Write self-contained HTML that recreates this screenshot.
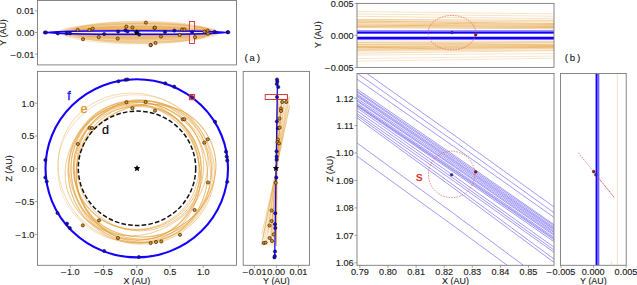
<!DOCTYPE html>
<html><head><meta charset="utf-8"><style>
html,body{margin:0;padding:0;background:#fff;width:637px;height:285px;overflow:hidden}
svg{display:block;font-family:"Liberation Sans", sans-serif}
</style></head><body>
<svg width="637" height="285" viewBox="0 0 637 285" xmlns="http://www.w3.org/2000/svg">
<defs><clipPath id="cA1"><rect x="37.5" y="0.5" width="199.0" height="64.4"/></clipPath><clipPath id="cA2"><rect x="37.5" y="71.4" width="199.0" height="193.9"/></clipPath><clipPath id="cA3"><rect x="243.2" y="71.4" width="66.30000000000001" height="193.9"/></clipPath><clipPath id="cB1"><rect x="357" y="3.4" width="197" height="64.0"/></clipPath><clipPath id="cB2"><rect x="357" y="73.5" width="197" height="191.8"/></clipPath><clipPath id="cB3"><rect x="560.5" y="73.5" width="65.70000000000005" height="191.8"/></clipPath></defs>
<rect width="637" height="285" fill="#fff"/>
<g clip-path="url(#cA2)">
<ellipse cx="137.1" cy="168.2" rx="64.0" ry="62.0" transform="rotate(0.0 137.1 168.2)" fill="none" stroke="#e39c32" stroke-width="1.0" stroke-opacity="0.61"/>
<ellipse cx="136.3" cy="167.1" rx="62.9" ry="62.5" transform="rotate(0.0 136.3 167.1)" fill="none" stroke="#e39c32" stroke-width="1.0" stroke-opacity="0.58"/>
<ellipse cx="135.6" cy="173.4" rx="64.2" ry="69.7" transform="rotate(-16.6 135.6 173.4)" fill="none" stroke="#e39c32" stroke-width="1.0" stroke-opacity="0.49"/>
<ellipse cx="146.0" cy="170.5" rx="70.9" ry="65.2" transform="rotate(-27.2 146.0 170.5)" fill="none" stroke="#e39c32" stroke-width="1.0" stroke-opacity="0.74"/>
<ellipse cx="140.2" cy="165.8" rx="63.6" ry="65.2" transform="rotate(0.0 140.2 165.8)" fill="none" stroke="#e39c32" stroke-width="1.0" stroke-opacity="0.54"/>
<ellipse cx="139.0" cy="172.6" rx="62.7" ry="67.2" transform="rotate(2.9 139.0 172.6)" fill="none" stroke="#e39c32" stroke-width="1.0" stroke-opacity="0.56"/>
<ellipse cx="135.3" cy="170.9" rx="63.9" ry="69.7" transform="rotate(-11.2 135.3 170.9)" fill="none" stroke="#e39c32" stroke-width="1.0" stroke-opacity="0.58"/>
<ellipse cx="140.9" cy="172.4" rx="66.1" ry="70.1" transform="rotate(-15.4 140.9 172.4)" fill="none" stroke="#e39c32" stroke-width="1.0" stroke-opacity="0.66"/>
<ellipse cx="139.2" cy="172.6" rx="71.6" ry="69.6" transform="rotate(28.8 139.2 172.6)" fill="none" stroke="#e39c32" stroke-width="1.0" stroke-opacity="0.46"/>
<ellipse cx="136.6" cy="168.1" rx="72.7" ry="66.0" transform="rotate(-27.6 136.6 168.1)" fill="none" stroke="#e39c32" stroke-width="1.0" stroke-opacity="0.50"/>
<ellipse cx="141.4" cy="172.4" rx="73.1" ry="71.8" transform="rotate(0.0 141.4 172.4)" fill="none" stroke="#e39c32" stroke-width="1.0" stroke-opacity="0.46"/>
<ellipse cx="140.2" cy="169.5" rx="71.7" ry="68.9" transform="rotate(26.7 140.2 169.5)" fill="none" stroke="#e39c32" stroke-width="1.0" stroke-opacity="0.57"/>
<ellipse cx="135.5" cy="168.2" rx="78.5" ry="74.0" transform="rotate(29.6 135.5 168.2)" fill="none" stroke="#e39c32" stroke-width="1.0" stroke-opacity="0.36"/>
<ellipse cx="134.7" cy="168.4" rx="77.0" ry="73.6" transform="rotate(-2.3 134.7 168.4)" fill="none" stroke="#e39c32" stroke-width="1.0" stroke-opacity="0.30"/>
<ellipse cx="137" cy="168.3" rx="58.7" ry="57.2" fill="none" stroke="#111" stroke-width="1.5" stroke-dasharray="4.6 2.2"/>
<ellipse cx="136.75" cy="168.3" rx="91.25" ry="89.1" fill="none" stroke="#1400ff" stroke-width="2.1"/>
<polygon points="137.00,165.00 138.00,167.02 140.23,167.35 138.62,168.93 139.00,171.15 137.00,170.10 135.00,171.15 135.38,168.93 133.77,167.35 136.00,167.02" fill="#000"/>
<circle cx="118.4" cy="81.3" r="1.6" fill="#1400ff" stroke="#111" stroke-width="0.6"/>
<circle cx="125.7" cy="79.8" r="1.6" fill="#1400ff" stroke="#111" stroke-width="0.6"/>
<circle cx="127.4" cy="79.5" r="1.6" fill="#1400ff" stroke="#111" stroke-width="0.6"/>
<circle cx="165.3" cy="83.3" r="1.6" fill="#1400ff" stroke="#111" stroke-width="0.6"/>
<circle cx="174.3" cy="86.7" r="1.6" fill="#1400ff" stroke="#111" stroke-width="0.6"/>
<circle cx="215.0" cy="121.7" r="1.6" fill="#1400ff" stroke="#111" stroke-width="0.6"/>
<circle cx="226.0" cy="151.7" r="1.6" fill="#1400ff" stroke="#111" stroke-width="0.6"/>
<circle cx="226.7" cy="156.7" r="1.6" fill="#1400ff" stroke="#111" stroke-width="0.6"/>
<circle cx="227.2" cy="160.5" r="1.6" fill="#1400ff" stroke="#111" stroke-width="0.6"/>
<circle cx="227.2" cy="181.8" r="1.6" fill="#1400ff" stroke="#111" stroke-width="0.6"/>
<circle cx="138.8" cy="257.0" r="1.6" fill="#1400ff" stroke="#111" stroke-width="0.6"/>
<circle cx="104.2" cy="251.0" r="1.6" fill="#1400ff" stroke="#111" stroke-width="0.6"/>
<circle cx="69.8" cy="228.0" r="1.6" fill="#1400ff" stroke="#111" stroke-width="0.6"/>
<circle cx="67.0" cy="223.6" r="1.6" fill="#1400ff" stroke="#111" stroke-width="0.6"/>
<circle cx="57.5" cy="213.0" r="1.6" fill="#1400ff" stroke="#111" stroke-width="0.6"/>
<circle cx="46.7" cy="181.5" r="1.6" fill="#1400ff" stroke="#111" stroke-width="0.6"/>
<circle cx="45.3" cy="177.5" r="1.6" fill="#1400ff" stroke="#111" stroke-width="0.6"/>
<circle cx="45.4" cy="160.0" r="1.6" fill="#1400ff" stroke="#111" stroke-width="0.6"/>
<circle cx="191.9" cy="97.2" r="1.7" fill="#1400ff" stroke="#111" stroke-width="0.6"/>
<rect x="189.4" y="94.5" width="5.2" height="5.2" fill="#e03030" fill-opacity="0.25" stroke="#e03030" stroke-width="1.0"/>
<circle cx="126.4" cy="102.2" r="1.6" fill="#e88c10" stroke="#111" stroke-width="0.6"/>
<circle cx="145.6" cy="102.0" r="1.6" fill="#e88c10" stroke="#111" stroke-width="0.6"/>
<circle cx="132.4" cy="108.2" r="1.6" fill="#e88c10" stroke="#111" stroke-width="0.6"/>
<circle cx="155.0" cy="110.7" r="1.6" fill="#e88c10" stroke="#111" stroke-width="0.6"/>
<circle cx="89.5" cy="128.0" r="1.6" fill="#e88c10" stroke="#111" stroke-width="0.6"/>
<circle cx="92.0" cy="128.0" r="1.6" fill="#e88c10" stroke="#111" stroke-width="0.6"/>
<circle cx="77.9" cy="144.0" r="1.6" fill="#e88c10" stroke="#111" stroke-width="0.6"/>
<circle cx="182.7" cy="119.3" r="1.6" fill="#e88c10" stroke="#111" stroke-width="0.6"/>
<circle cx="184.3" cy="119.3" r="1.6" fill="#e88c10" stroke="#111" stroke-width="0.6"/>
<circle cx="204.3" cy="142.7" r="1.6" fill="#e88c10" stroke="#111" stroke-width="0.6"/>
<circle cx="207.7" cy="139.3" r="1.6" fill="#e88c10" stroke="#111" stroke-width="0.6"/>
<circle cx="208.0" cy="182.5" r="1.6" fill="#e88c10" stroke="#111" stroke-width="0.6"/>
<circle cx="194.6" cy="210.0" r="1.6" fill="#e88c10" stroke="#111" stroke-width="0.6"/>
<circle cx="180.0" cy="234.8" r="1.6" fill="#e88c10" stroke="#111" stroke-width="0.6"/>
<circle cx="150.7" cy="243.0" r="1.6" fill="#e88c10" stroke="#111" stroke-width="0.6"/>
<circle cx="156.0" cy="242.0" r="1.6" fill="#e88c10" stroke="#111" stroke-width="0.6"/>
<circle cx="161.3" cy="241.5" r="1.6" fill="#e88c10" stroke="#111" stroke-width="0.6"/>
<circle cx="82.8" cy="225.4" r="1.6" fill="#e88c10" stroke="#111" stroke-width="0.6"/>
<circle cx="99.0" cy="220.4" r="1.6" fill="#e88c10" stroke="#111" stroke-width="0.6"/>
<circle cx="117.9" cy="238.0" r="1.6" fill="#e88c10" stroke="#111" stroke-width="0.6"/>
</g>
<rect x="37.5" y="71.4" width="199.0" height="193.9" fill="none" stroke="#7a7a7a" stroke-width="0.9"/>
<text x="68.90" y="99.50" font-size="12.5" text-anchor="middle" fill="#1a10f0" stroke="#1a10f0" stroke-width="0.3">f</text>
<text x="84.00" y="113.00" font-size="12.5" text-anchor="middle" fill="#dc9228" stroke="#dc9228" stroke-width="0.25">e</text>
<text x="105.60" y="134.20" font-size="12.5" text-anchor="middle" fill="#000" stroke="#000" stroke-width="0.2">d</text>
<line x1="70.30000000000001" y1="265.3" x2="70.30000000000001" y2="267.8" stroke="#7a7a7a" stroke-width="0.7"/>
<text transform="translate(70.30,275.00) scale(1.075,1)" font-size="8.5" text-anchor="middle" fill="#1a1a1a" stroke="#1a1a1a" stroke-width="0.12"><tspan>–</tspan><tspan dx="0.9">1.0</tspan></text>
<line x1="103.55000000000001" y1="265.3" x2="103.55000000000001" y2="267.8" stroke="#7a7a7a" stroke-width="0.7"/>
<text transform="translate(103.55,275.00) scale(1.075,1)" font-size="8.5" text-anchor="middle" fill="#1a1a1a" stroke="#1a1a1a" stroke-width="0.12"><tspan>–</tspan><tspan dx="0.9">0.5</tspan></text>
<line x1="136.8" y1="265.3" x2="136.8" y2="267.8" stroke="#7a7a7a" stroke-width="0.7"/>
<text transform="translate(136.80,275.00) scale(1.075,1)" font-size="8.5" text-anchor="middle" fill="#1a1a1a" stroke="#1a1a1a" stroke-width="0.12">0.0</text>
<line x1="170.05" y1="265.3" x2="170.05" y2="267.8" stroke="#7a7a7a" stroke-width="0.7"/>
<text transform="translate(170.05,275.00) scale(1.075,1)" font-size="8.5" text-anchor="middle" fill="#1a1a1a" stroke="#1a1a1a" stroke-width="0.12">0.5</text>
<line x1="203.3" y1="265.3" x2="203.3" y2="267.8" stroke="#7a7a7a" stroke-width="0.7"/>
<text transform="translate(203.30,275.00) scale(1.075,1)" font-size="8.5" text-anchor="middle" fill="#1a1a1a" stroke="#1a1a1a" stroke-width="0.12">1.0</text>
<line x1="35.0" y1="103.20000000000002" x2="37.5" y2="103.20000000000002" stroke="#7a7a7a" stroke-width="0.7"/>
<text transform="translate(34.30,106.60) scale(1.075,1)" font-size="8.5" text-anchor="end" fill="#1a1a1a" stroke="#1a1a1a" stroke-width="0.12">1.0</text>
<line x1="35.0" y1="136.0" x2="37.5" y2="136.0" stroke="#7a7a7a" stroke-width="0.7"/>
<text transform="translate(34.30,139.40) scale(1.075,1)" font-size="8.5" text-anchor="end" fill="#1a1a1a" stroke="#1a1a1a" stroke-width="0.12">0.5</text>
<line x1="35.0" y1="168.8" x2="37.5" y2="168.8" stroke="#7a7a7a" stroke-width="0.7"/>
<text transform="translate(34.30,172.20) scale(1.075,1)" font-size="8.5" text-anchor="end" fill="#1a1a1a" stroke="#1a1a1a" stroke-width="0.12">0.0</text>
<line x1="35.0" y1="201.60000000000002" x2="37.5" y2="201.60000000000002" stroke="#7a7a7a" stroke-width="0.7"/>
<text transform="translate(34.30,205.00) scale(1.075,1)" font-size="8.5" text-anchor="end" fill="#1a1a1a" stroke="#1a1a1a" stroke-width="0.12"><tspan>–</tspan><tspan dx="0.9">0.5</tspan></text>
<line x1="35.0" y1="234.4" x2="37.5" y2="234.4" stroke="#7a7a7a" stroke-width="0.7"/>
<text transform="translate(34.30,237.80) scale(1.075,1)" font-size="8.5" text-anchor="end" fill="#1a1a1a" stroke="#1a1a1a" stroke-width="0.12"><tspan>–</tspan><tspan dx="0.9">1.0</tspan></text>
<text transform="translate(136.80,283.60) scale(1.05,1)" font-size="8.5" text-anchor="middle" fill="#1a1a1a" stroke="#1a1a1a" stroke-width="0.12">X (AU)</text>
<text transform="translate(11.60,168.50) rotate(-90) scale(1.05,1)" font-size="8.5" text-anchor="middle" fill="#1a1a1a" stroke="#1a1a1a" stroke-width="0.12">Z (AU)</text>
<g clip-path="url(#cA1)">
<ellipse cx="140.8" cy="32.4" rx="72.0" ry="10.4" fill="#e39c32" fill-opacity="0.048" stroke="#e39c32" stroke-width="0.6" stroke-opacity="0.4"/>
<ellipse cx="139.9" cy="32.5" rx="73.3" ry="3.1" fill="#e39c32" fill-opacity="0.048" stroke="#e39c32" stroke-width="0.6" stroke-opacity="0.4"/>
<ellipse cx="142.5" cy="32.2" rx="73.6" ry="2.7" fill="#e39c32" fill-opacity="0.048" stroke="#e39c32" stroke-width="0.6" stroke-opacity="0.4"/>
<ellipse cx="139.8" cy="31.8" rx="76.5" ry="7.5" fill="#e39c32" fill-opacity="0.048" stroke="#e39c32" stroke-width="0.6" stroke-opacity="0.4"/>
<ellipse cx="147.1" cy="32.7" rx="71.4" ry="7.1" fill="#e39c32" fill-opacity="0.048" stroke="#e39c32" stroke-width="0.6" stroke-opacity="0.4"/>
<ellipse cx="132.6" cy="31.8" rx="72.6" ry="5.7" fill="#e39c32" fill-opacity="0.048" stroke="#e39c32" stroke-width="0.6" stroke-opacity="0.4"/>
<ellipse cx="136.6" cy="32.4" rx="71.8" ry="2.5" fill="#e39c32" fill-opacity="0.048" stroke="#e39c32" stroke-width="0.6" stroke-opacity="0.4"/>
<ellipse cx="141.1" cy="32.7" rx="75.7" ry="5.7" fill="#e39c32" fill-opacity="0.048" stroke="#e39c32" stroke-width="0.6" stroke-opacity="0.4"/>
<ellipse cx="140.4" cy="32.1" rx="73.9" ry="5.1" fill="#e39c32" fill-opacity="0.048" stroke="#e39c32" stroke-width="0.6" stroke-opacity="0.4"/>
<ellipse cx="148.0" cy="32.8" rx="71.0" ry="9.3" fill="#e39c32" fill-opacity="0.048" stroke="#e39c32" stroke-width="0.6" stroke-opacity="0.4"/>
<ellipse cx="135.6" cy="31.8" rx="72.6" ry="3.7" fill="#e39c32" fill-opacity="0.048" stroke="#e39c32" stroke-width="0.6" stroke-opacity="0.4"/>
<ellipse cx="141.1" cy="32.3" rx="69.5" ry="9.4" fill="#e39c32" fill-opacity="0.048" stroke="#e39c32" stroke-width="0.6" stroke-opacity="0.4"/>
<ellipse cx="146.6" cy="32.0" rx="70.2" ry="2.5" fill="#e39c32" fill-opacity="0.048" stroke="#e39c32" stroke-width="0.6" stroke-opacity="0.4"/>
<ellipse cx="142.9" cy="32.3" rx="68.6" ry="11.2" fill="#e39c32" fill-opacity="0.048" stroke="#e39c32" stroke-width="0.6" stroke-opacity="0.4"/>
<ellipse cx="136.1" cy="32.1" rx="77.7" ry="8.5" fill="#e39c32" fill-opacity="0.048" stroke="#e39c32" stroke-width="0.6" stroke-opacity="0.4"/>
<ellipse cx="136.5" cy="32.9" rx="73.2" ry="11.0" fill="#e39c32" fill-opacity="0.048" stroke="#e39c32" stroke-width="0.6" stroke-opacity="0.4"/>
<ellipse cx="133.8" cy="31.8" rx="74.6" ry="2.7" fill="#e39c32" fill-opacity="0.048" stroke="#e39c32" stroke-width="0.6" stroke-opacity="0.4"/>
<ellipse cx="139.8" cy="32.4" rx="67.7" ry="6.1" fill="#e39c32" fill-opacity="0.048" stroke="#e39c32" stroke-width="0.6" stroke-opacity="0.4"/>
<ellipse cx="140.1" cy="32.7" rx="75.2" ry="2.8" fill="#e39c32" fill-opacity="0.048" stroke="#e39c32" stroke-width="0.6" stroke-opacity="0.4"/>
<ellipse cx="135.1" cy="32.1" rx="75.8" ry="3.3" fill="#e39c32" fill-opacity="0.048" stroke="#e39c32" stroke-width="0.6" stroke-opacity="0.4"/>
<ellipse cx="145.8" cy="33.1" rx="70.4" ry="3.8" fill="#e39c32" fill-opacity="0.048" stroke="#e39c32" stroke-width="0.6" stroke-opacity="0.4"/>
<ellipse cx="137.8" cy="32.7" rx="72.7" ry="9.5" fill="#e39c32" fill-opacity="0.048" stroke="#e39c32" stroke-width="0.6" stroke-opacity="0.4"/>
<rect x="189.5" y="21.5" width="5" height="22" fill="#fff" fill-opacity="0.45" stroke="#d83030" stroke-width="0.9"/>
<ellipse cx="136.5" cy="32.45" rx="91.5" ry="1.75" fill="#efedff" stroke="#1400ff" stroke-width="1.6"/>
<circle cx="44.9" cy="32.5" r="1.6" fill="#1400ff" stroke="#111" stroke-width="0.6"/>
<circle cx="46.0" cy="32.5" r="1.6" fill="#1400ff" stroke="#111" stroke-width="0.6"/>
<circle cx="57.8" cy="33.4" r="1.6" fill="#1400ff" stroke="#111" stroke-width="0.6"/>
<circle cx="66.7" cy="33.4" r="1.6" fill="#1400ff" stroke="#111" stroke-width="0.6"/>
<circle cx="70.0" cy="33.4" r="1.6" fill="#1400ff" stroke="#111" stroke-width="0.6"/>
<circle cx="104.2" cy="34.0" r="1.6" fill="#1400ff" stroke="#111" stroke-width="0.6"/>
<circle cx="118.1" cy="31.6" r="1.6" fill="#1400ff" stroke="#111" stroke-width="0.6"/>
<circle cx="125.4" cy="30.3" r="1.6" fill="#1400ff" stroke="#111" stroke-width="0.6"/>
<circle cx="127.5" cy="31.5" r="1.6" fill="#1400ff" stroke="#111" stroke-width="0.6"/>
<circle cx="139.2" cy="34.6" r="1.6" fill="#1400ff" stroke="#111" stroke-width="0.6"/>
<circle cx="165.0" cy="31.9" r="1.6" fill="#1400ff" stroke="#111" stroke-width="0.6"/>
<circle cx="174.3" cy="30.6" r="1.6" fill="#1400ff" stroke="#111" stroke-width="0.6"/>
<circle cx="192.1" cy="31.9" r="1.6" fill="#1400ff" stroke="#111" stroke-width="0.6"/>
<circle cx="214.6" cy="31.8" r="1.6" fill="#1400ff" stroke="#111" stroke-width="0.6"/>
<circle cx="227.5" cy="32.2" r="1.6" fill="#1400ff" stroke="#111" stroke-width="0.6"/>
<circle cx="228.3" cy="32.2" r="1.6" fill="#1400ff" stroke="#111" stroke-width="0.6"/>
<circle cx="77.7" cy="30.0" r="1.6" fill="#e88c10" stroke="#111" stroke-width="0.6"/>
<circle cx="83.0" cy="39.2" r="1.6" fill="#e88c10" stroke="#111" stroke-width="0.6"/>
<circle cx="89.4" cy="30.0" r="1.6" fill="#e88c10" stroke="#111" stroke-width="0.6"/>
<circle cx="92.8" cy="28.7" r="1.6" fill="#e88c10" stroke="#111" stroke-width="0.6"/>
<circle cx="98.7" cy="37.1" r="1.6" fill="#e88c10" stroke="#111" stroke-width="0.6"/>
<circle cx="117.7" cy="38.6" r="1.6" fill="#e88c10" stroke="#111" stroke-width="0.6"/>
<circle cx="126.3" cy="26.7" r="1.6" fill="#e88c10" stroke="#111" stroke-width="0.6"/>
<circle cx="132.4" cy="27.5" r="1.6" fill="#e88c10" stroke="#111" stroke-width="0.6"/>
<circle cx="145.9" cy="22.6" r="1.6" fill="#e88c10" stroke="#111" stroke-width="0.6"/>
<circle cx="150.8" cy="45.1" r="1.6" fill="#e88c10" stroke="#111" stroke-width="0.6"/>
<circle cx="154.5" cy="27.9" r="1.6" fill="#e88c10" stroke="#111" stroke-width="0.6"/>
<circle cx="154.9" cy="27.6" r="1.6" fill="#e88c10" stroke="#111" stroke-width="0.6"/>
<circle cx="161.0" cy="36.5" r="1.6" fill="#e88c10" stroke="#111" stroke-width="0.6"/>
<circle cx="155.5" cy="43.0" r="1.6" fill="#e88c10" stroke="#111" stroke-width="0.6"/>
<circle cx="150.6" cy="45.1" r="1.6" fill="#e88c10" stroke="#111" stroke-width="0.6"/>
<circle cx="179.7" cy="34.9" r="1.6" fill="#e88c10" stroke="#111" stroke-width="0.6"/>
<circle cx="182.1" cy="29.5" r="1.6" fill="#e88c10" stroke="#111" stroke-width="0.6"/>
<circle cx="184.4" cy="29.5" r="1.6" fill="#e88c10" stroke="#111" stroke-width="0.6"/>
<circle cx="195.0" cy="37.1" r="1.6" fill="#e88c10" stroke="#111" stroke-width="0.6"/>
<circle cx="204.4" cy="31.6" r="1.6" fill="#e88c10" stroke="#111" stroke-width="0.6"/>
<circle cx="207.7" cy="30.7" r="1.6" fill="#e88c10" stroke="#111" stroke-width="0.6"/>
<circle cx="208.0" cy="33.7" r="1.6" fill="#e88c10" stroke="#111" stroke-width="0.6"/>
<polygon points="136.70,29.20 137.70,31.22 139.93,31.55 138.32,33.13 138.70,35.35 136.70,34.30 134.70,35.35 135.08,33.13 133.47,31.55 135.70,31.22" fill="#000"/>
</g>
<rect x="37.5" y="0.5" width="199.0" height="64.4" fill="none" stroke="#7a7a7a" stroke-width="0.9"/>
<line x1="35.0" y1="10.899999999999999" x2="37.5" y2="10.899999999999999" stroke="#7a7a7a" stroke-width="0.7"/>
<text transform="translate(34.30,14.30) scale(1.075,1)" font-size="8.5" text-anchor="end" fill="#1a1a1a" stroke="#1a1a1a" stroke-width="0.12">0.01</text>
<line x1="35.0" y1="32.5" x2="37.5" y2="32.5" stroke="#7a7a7a" stroke-width="0.7"/>
<text transform="translate(34.30,35.90) scale(1.075,1)" font-size="8.5" text-anchor="end" fill="#1a1a1a" stroke="#1a1a1a" stroke-width="0.12">0.00</text>
<line x1="35.0" y1="54.1" x2="37.5" y2="54.1" stroke="#7a7a7a" stroke-width="0.7"/>
<text transform="translate(34.30,57.50) scale(1.075,1)" font-size="8.5" text-anchor="end" fill="#1a1a1a" stroke="#1a1a1a" stroke-width="0.12"><tspan>–</tspan><tspan dx="0.9">0.01</tspan></text>
<text transform="translate(5.90,32.50) rotate(-90) scale(1.05,1)" font-size="8.5" text-anchor="middle" fill="#1a1a1a" stroke="#1a1a1a" stroke-width="0.12">Y (AU)</text>
<text x="252.30" y="61.00" font-size="9.8" text-anchor="middle" fill="#1a1a1a" font-family="Liberation Mono, monospace" stroke="#1a1a1a" stroke-width="0.12">(a)</text>
<g clip-path="url(#cA3)">
<polygon points="276.9,166 277.8,98 289.8,99.5" fill="#e39c32" fill-opacity="0.13"/>
<polygon points="276.2,171 261.5,245 275.6,247" fill="#e39c32" fill-opacity="0.13"/>
<path d="M277.80,102.23 L276.9,166 M276.2,171 L275.60,241.61" fill="none" stroke="#e39c32" stroke-width="0.8" stroke-opacity="0.45"/>
<path d="M289.80,105.42 L276.9,166 M276.2,171 L261.60,245.00" fill="none" stroke="#e39c32" stroke-width="0.8" stroke-opacity="0.48"/>
<path d="M278.15,100.66 L276.9,166 M276.2,171 L275.19,245.04" fill="none" stroke="#e39c32" stroke-width="0.8" stroke-opacity="0.41"/>
<path d="M288.61,97.13 L276.9,166 M276.2,171 L262.99,236.97" fill="none" stroke="#e39c32" stroke-width="0.8" stroke-opacity="0.31"/>
<path d="M284.33,101.74 L276.9,166 M276.2,171 L267.99,229.22" fill="none" stroke="#e39c32" stroke-width="0.8" stroke-opacity="0.30"/>
<path d="M281.15,105.16 L276.9,166 M276.2,171 L271.69,242.02" fill="none" stroke="#e39c32" stroke-width="0.8" stroke-opacity="0.29"/>
<path d="M287.37,97.39 L276.9,166 M276.2,171 L264.44,239.50" fill="none" stroke="#e39c32" stroke-width="0.8" stroke-opacity="0.28"/>
<path d="M277.82,104.71 L276.9,166 M276.2,171 L275.58,232.56" fill="none" stroke="#e39c32" stroke-width="0.8" stroke-opacity="0.30"/>
<path d="M289.59,104.72 L276.9,166 M276.2,171 L261.85,233.92" fill="none" stroke="#e39c32" stroke-width="0.8" stroke-opacity="0.49"/>
<path d="M284.27,102.78 L276.9,166 M276.2,171 L268.05,232.48" fill="none" stroke="#e39c32" stroke-width="0.8" stroke-opacity="0.49"/>
<path d="M286.09,105.67 L276.9,166 M276.2,171 L265.93,244.19" fill="none" stroke="#e39c32" stroke-width="0.8" stroke-opacity="0.32"/>
<path d="M282.13,97.66 L276.9,166 M276.2,171 L270.54,231.48" fill="none" stroke="#e39c32" stroke-width="0.8" stroke-opacity="0.27"/>
<path d="M281.42,102.03 L276.9,166 M276.2,171 L271.38,229.06" fill="none" stroke="#e39c32" stroke-width="0.8" stroke-opacity="0.42"/>
<path d="M281.85,99.10 L276.9,166 M276.2,171 L270.87,242.91" fill="none" stroke="#e39c32" stroke-width="0.8" stroke-opacity="0.37"/>
<path d="M281.59,100.81 L276.9,166 M276.2,171 L271.18,240.98" fill="none" stroke="#e39c32" stroke-width="0.8" stroke-opacity="0.26"/>
<path d="M289.50,96.23 L276.9,166 M276.2,171 L261.95,241.75" fill="none" stroke="#e39c32" stroke-width="0.8" stroke-opacity="0.46"/>
<path d="M278.02,103.88 L276.9,166 M276.2,171 L275.35,235.23" fill="none" stroke="#e39c32" stroke-width="0.8" stroke-opacity="0.39"/>
<path d="M277.91,96.47 L276.9,166 M276.2,171 L275.47,232.08" fill="none" stroke="#e39c32" stroke-width="0.8" stroke-opacity="0.49"/>
<path d="M280.16,103.56 L276.9,166 M276.2,171 L272.85,244.80" fill="none" stroke="#e39c32" stroke-width="0.8" stroke-opacity="0.49"/>
<path d="M281.93,99.55 L276.9,166 M276.2,171 L270.78,237.92" fill="none" stroke="#e39c32" stroke-width="0.8" stroke-opacity="0.44"/>
<line x1="277.4" y1="98" x2="276.2" y2="246" stroke="#e39c32" stroke-width="1.4" stroke-opacity="0.8"/>
<line x1="277.5" y1="79" x2="274.7" y2="257.4" stroke="#1400ff" stroke-width="1.25"/>
<circle cx="277.0" cy="79.5" r="1.6" fill="#1400ff" stroke="#111" stroke-width="0.6"/>
<circle cx="277.3" cy="81.5" r="1.6" fill="#1400ff" stroke="#111" stroke-width="0.6"/>
<circle cx="276.8" cy="84.0" r="1.6" fill="#1400ff" stroke="#111" stroke-width="0.6"/>
<circle cx="278.3" cy="87.0" r="1.6" fill="#1400ff" stroke="#111" stroke-width="0.6"/>
<circle cx="277.0" cy="97.0" r="1.6" fill="#1400ff" stroke="#111" stroke-width="0.6"/>
<circle cx="276.9" cy="121.5" r="1.6" fill="#1400ff" stroke="#111" stroke-width="0.6"/>
<circle cx="277.8" cy="128.2" r="1.6" fill="#1400ff" stroke="#111" stroke-width="0.6"/>
<circle cx="276.6" cy="151.3" r="1.6" fill="#1400ff" stroke="#111" stroke-width="0.6"/>
<circle cx="276.6" cy="156.6" r="1.6" fill="#1400ff" stroke="#111" stroke-width="0.6"/>
<circle cx="276.6" cy="159.7" r="1.6" fill="#1400ff" stroke="#111" stroke-width="0.6"/>
<circle cx="276.3" cy="177.5" r="1.6" fill="#1400ff" stroke="#111" stroke-width="0.6"/>
<circle cx="275.3" cy="213.2" r="1.6" fill="#1400ff" stroke="#111" stroke-width="0.6"/>
<circle cx="275.0" cy="224.2" r="1.6" fill="#1400ff" stroke="#111" stroke-width="0.6"/>
<circle cx="275.3" cy="228.0" r="1.6" fill="#1400ff" stroke="#111" stroke-width="0.6"/>
<circle cx="275.0" cy="251.4" r="1.6" fill="#1400ff" stroke="#111" stroke-width="0.6"/>
<circle cx="274.4" cy="257.4" r="1.6" fill="#1400ff" stroke="#111" stroke-width="0.6"/>
<circle cx="274.8" cy="256.0" r="1.6" fill="#1400ff" stroke="#111" stroke-width="0.6"/>
<circle cx="282.2" cy="102.0" r="1.6" fill="#e88c10" stroke="#111" stroke-width="0.6"/>
<circle cx="286.2" cy="102.0" r="1.6" fill="#e88c10" stroke="#111" stroke-width="0.6"/>
<circle cx="281.0" cy="108.6" r="1.6" fill="#e88c10" stroke="#111" stroke-width="0.6"/>
<circle cx="281.0" cy="111.0" r="1.6" fill="#e88c10" stroke="#111" stroke-width="0.6"/>
<circle cx="279.6" cy="118.5" r="1.6" fill="#e88c10" stroke="#111" stroke-width="0.6"/>
<circle cx="279.6" cy="127.6" r="1.6" fill="#e88c10" stroke="#111" stroke-width="0.6"/>
<circle cx="277.8" cy="139.6" r="1.6" fill="#e88c10" stroke="#111" stroke-width="0.6"/>
<circle cx="277.5" cy="142.2" r="1.6" fill="#e88c10" stroke="#111" stroke-width="0.6"/>
<circle cx="279.0" cy="143.4" r="1.6" fill="#e88c10" stroke="#111" stroke-width="0.6"/>
<circle cx="275.7" cy="182.8" r="1.6" fill="#e88c10" stroke="#111" stroke-width="0.6"/>
<circle cx="271.6" cy="210.5" r="1.6" fill="#e88c10" stroke="#111" stroke-width="0.6"/>
<circle cx="271.6" cy="221.0" r="1.6" fill="#e88c10" stroke="#111" stroke-width="0.6"/>
<circle cx="269.4" cy="225.5" r="1.6" fill="#e88c10" stroke="#111" stroke-width="0.6"/>
<circle cx="273.8" cy="234.4" r="1.6" fill="#e88c10" stroke="#111" stroke-width="0.6"/>
<circle cx="269.6" cy="238.0" r="1.6" fill="#e88c10" stroke="#111" stroke-width="0.6"/>
<circle cx="272.0" cy="241.0" r="1.6" fill="#e88c10" stroke="#111" stroke-width="0.6"/>
<circle cx="263.8" cy="243.0" r="1.6" fill="#e88c10" stroke="#111" stroke-width="0.6"/>
<circle cx="265.6" cy="242.6" r="1.6" fill="#e88c10" stroke="#111" stroke-width="0.6"/>
<polygon points="276.00,164.90 277.00,166.92 279.23,167.25 277.62,168.83 278.00,171.05 276.00,170.00 274.00,171.05 274.38,168.83 272.77,167.25 275.00,166.92" fill="#000"/>
<rect x="265.2" y="94.6" width="22.3" height="4.9" fill="none" stroke="#d02020" stroke-width="0.9"/>
</g>
<rect x="243.2" y="71.4" width="66.30000000000001" height="193.9" fill="none" stroke="#7a7a7a" stroke-width="0.9"/>
<line x1="254.39999999999998" y1="265.3" x2="254.39999999999998" y2="267.8" stroke="#7a7a7a" stroke-width="0.7"/>
<line x1="276.4" y1="265.3" x2="276.4" y2="267.8" stroke="#7a7a7a" stroke-width="0.7"/>
<line x1="298.4" y1="265.3" x2="298.4" y2="267.8" stroke="#7a7a7a" stroke-width="0.7"/>
<text transform="translate(254.60,275.00) scale(1.075,1)" font-size="8.5" text-anchor="middle" fill="#1a1a1a" stroke="#1a1a1a" stroke-width="0.12"><tspan>–</tspan><tspan dx="0.9">0.01</tspan></text>
<text transform="translate(276.20,275.00) scale(1.075,1)" font-size="8.5" text-anchor="middle" fill="#1a1a1a" stroke="#1a1a1a" stroke-width="0.12">0.00</text>
<text transform="translate(298.40,275.00) scale(1.075,1)" font-size="8.5" text-anchor="middle" fill="#1a1a1a" stroke="#1a1a1a" stroke-width="0.12">0.01</text>
<text transform="translate(276.40,283.60) scale(1.05,1)" font-size="8.5" text-anchor="middle" fill="#1a1a1a" stroke="#1a1a1a" stroke-width="0.12">Y (AU)</text>
<g clip-path="url(#cB1)">
<line x1="357" y1="11.55" x2="554" y2="13.85" stroke="#e39c32" stroke-width="0.9" stroke-opacity="0.31"/>
<line x1="357" y1="13.99" x2="554" y2="16.21" stroke="#e39c32" stroke-width="0.9" stroke-opacity="0.32"/>
<line x1="357" y1="16.33" x2="554" y2="18.67" stroke="#e39c32" stroke-width="0.9" stroke-opacity="0.36"/>
<line x1="357" y1="19.37" x2="554" y2="20.43" stroke="#e39c32" stroke-width="0.9" stroke-opacity="0.52"/>
<line x1="357" y1="20.55" x2="554" y2="21.85" stroke="#e39c32" stroke-width="0.9" stroke-opacity="0.40"/>
<line x1="357" y1="21.12" x2="554" y2="23.48" stroke="#e39c32" stroke-width="0.9" stroke-opacity="0.67"/>
<line x1="357" y1="22.52" x2="554" y2="24.48" stroke="#e39c32" stroke-width="0.9" stroke-opacity="0.67"/>
<line x1="357" y1="23.95" x2="554" y2="25.45" stroke="#e39c32" stroke-width="0.9" stroke-opacity="0.59"/>
<line x1="357" y1="25.12" x2="554" y2="26.48" stroke="#e39c32" stroke-width="0.9" stroke-opacity="0.77"/>
<line x1="357" y1="26.48" x2="554" y2="27.52" stroke="#e39c32" stroke-width="0.9" stroke-opacity="0.74"/>
<line x1="357" y1="27.64" x2="554" y2="28.76" stroke="#e39c32" stroke-width="0.9" stroke-opacity="0.57"/>
<line x1="357" y1="42.30" x2="554" y2="41.90" stroke="#e39c32" stroke-width="0.9" stroke-opacity="0.70"/>
<line x1="357" y1="44.15" x2="554" y2="42.85" stroke="#e39c32" stroke-width="0.9" stroke-opacity="0.56"/>
<line x1="357" y1="44.97" x2="554" y2="44.43" stroke="#e39c32" stroke-width="0.9" stroke-opacity="0.67"/>
<line x1="357" y1="46.47" x2="554" y2="45.53" stroke="#e39c32" stroke-width="0.9" stroke-opacity="0.77"/>
<line x1="357" y1="47.64" x2="554" y2="46.56" stroke="#e39c32" stroke-width="0.9" stroke-opacity="0.78"/>
<line x1="357" y1="49.06" x2="554" y2="47.34" stroke="#e39c32" stroke-width="0.9" stroke-opacity="0.75"/>
<line x1="357" y1="50.18" x2="554" y2="48.42" stroke="#e39c32" stroke-width="0.9" stroke-opacity="0.54"/>
<line x1="357" y1="51.11" x2="554" y2="49.89" stroke="#e39c32" stroke-width="0.9" stroke-opacity="0.37"/>
<line x1="357" y1="53.19" x2="554" y2="50.61" stroke="#e39c32" stroke-width="0.9" stroke-opacity="0.39"/>
<line x1="357" y1="55.07" x2="554" y2="53.53" stroke="#e39c32" stroke-width="0.9" stroke-opacity="0.29"/>
<line x1="357" y1="58.52" x2="554" y2="56.08" stroke="#e39c32" stroke-width="0.9" stroke-opacity="0.27"/>
<line x1="357" y1="61.16" x2="554" y2="58.24" stroke="#e39c32" stroke-width="0.9" stroke-opacity="0.28"/>
<rect x="357" y="30.2" width="197" height="1.4" fill="#1400ff" fill-opacity="0.55"/>
<rect x="357" y="31.6" width="197" height="2.0" fill="#1400ff"/>
<rect x="357" y="33.6" width="197" height="0.4" fill="#1400ff" fill-opacity="0.4"/>
<rect x="357" y="36.7" width="197" height="2.3" fill="#1400ff"/>
<rect x="357" y="39.0" width="197" height="1.1" fill="#1400ff" fill-opacity="0.55"/>
<ellipse cx="451.9" cy="32.7" rx="23.8" ry="17.2" fill="none" stroke="#e35d5d" stroke-width="0.75" stroke-dasharray="1.5 1.2"/>
<circle cx="452.0" cy="32.6" r="1.4" fill="#2a2ae0" stroke="#111" stroke-width="0.35"/>
<circle cx="475.7" cy="34.9" r="1.4" fill="#a81515" stroke="#111" stroke-width="0.4"/>
</g>
<rect x="357" y="3.4" width="197" height="64.0" fill="none" stroke="#7a7a7a" stroke-width="0.9"/>
<line x1="354.5" y1="3.3999999999999986" x2="357" y2="3.3999999999999986" stroke="#7a7a7a" stroke-width="0.7"/>
<text transform="translate(353.60,6.80) scale(1.075,1)" font-size="8.5" text-anchor="end" fill="#1a1a1a" stroke="#1a1a1a" stroke-width="0.12">0.005</text>
<line x1="354.5" y1="35.4" x2="357" y2="35.4" stroke="#7a7a7a" stroke-width="0.7"/>
<text transform="translate(353.60,38.80) scale(1.075,1)" font-size="8.5" text-anchor="end" fill="#1a1a1a" stroke="#1a1a1a" stroke-width="0.12">0.000</text>
<line x1="354.5" y1="67.4" x2="357" y2="67.4" stroke="#7a7a7a" stroke-width="0.7"/>
<text transform="translate(353.60,70.80) scale(1.075,1)" font-size="8.5" text-anchor="end" fill="#1a1a1a" stroke="#1a1a1a" stroke-width="0.12"><tspan>–</tspan><tspan dx="0.9">0.005</tspan></text>
<text transform="translate(321.30,34.60) rotate(-90) scale(1.05,1)" font-size="8.5" text-anchor="middle" fill="#1a1a1a" stroke="#1a1a1a" stroke-width="0.12">Y (AU)</text>
<text x="572.50" y="60.60" font-size="9.8" text-anchor="middle" fill="#1a1a1a" font-family="Liberation Mono, monospace" stroke="#1a1a1a" stroke-width="0.12">(b)</text>
<g clip-path="url(#cB2)">
<path d="M352,62.93 Q455.5,135.55 559,210.57" fill="none" stroke="#5a4af0" stroke-width="0.8" stroke-opacity="0.7"/>
<path d="M352,69.56 Q455.5,141.70 559,216.24" fill="none" stroke="#5a4af0" stroke-width="0.8" stroke-opacity="0.7"/>
<path d="M352,75.69 Q455.5,147.10 559,220.91" fill="none" stroke="#5a4af0" stroke-width="0.8" stroke-opacity="0.7"/>
<path d="M352,85.66 Q455.5,155.68 559,228.11" fill="none" stroke="#5a4af0" stroke-width="0.8" stroke-opacity="0.7"/>
<path d="M352,87.60 Q455.5,157.26 559,229.31" fill="none" stroke="#5a4af0" stroke-width="0.8" stroke-opacity="0.7"/>
<path d="M352,88.71 Q455.5,158.66 559,231.02" fill="none" stroke="#5a4af0" stroke-width="0.8" stroke-opacity="0.7"/>
<path d="M352,90.76 Q455.5,160.26 559,232.15" fill="none" stroke="#5a4af0" stroke-width="0.8" stroke-opacity="0.7"/>
<path d="M352,91.99 Q455.5,161.45 559,233.31" fill="none" stroke="#5a4af0" stroke-width="0.8" stroke-opacity="0.7"/>
<path d="M352,93.03 Q455.5,162.74 559,234.86" fill="none" stroke="#5a4af0" stroke-width="0.8" stroke-opacity="0.7"/>
<path d="M352,95.07 Q455.5,164.32 559,235.97" fill="none" stroke="#5a4af0" stroke-width="0.8" stroke-opacity="0.7"/>
<path d="M352,96.76 Q455.5,165.94 559,237.52" fill="none" stroke="#5a4af0" stroke-width="0.8" stroke-opacity="0.7"/>
<path d="M352,97.75 Q455.5,167.06 559,238.77" fill="none" stroke="#5a4af0" stroke-width="0.8" stroke-opacity="0.7"/>
<path d="M352,99.95 Q455.5,169.17 559,240.80" fill="none" stroke="#5a4af0" stroke-width="0.8" stroke-opacity="0.7"/>
<path d="M352,101.34 Q455.5,170.52 559,242.10" fill="none" stroke="#5a4af0" stroke-width="0.8" stroke-opacity="0.7"/>
<path d="M352,102.07 Q455.5,171.46 559,243.26" fill="none" stroke="#5a4af0" stroke-width="0.8" stroke-opacity="0.7"/>
<path d="M352,102.86 Q455.5,172.80 559,245.14" fill="none" stroke="#5a4af0" stroke-width="0.8" stroke-opacity="0.7"/>
<path d="M352,104.47 Q455.5,176.40 559,250.73" fill="none" stroke="#5a4af0" stroke-width="0.8" stroke-opacity="0.7"/>
<path d="M352,107.27 Q455.5,179.20 559,253.53" fill="none" stroke="#5a4af0" stroke-width="0.8" stroke-opacity="0.7"/>
<path d="M352,110.08 Q455.5,181.75 559,255.82" fill="none" stroke="#5a4af0" stroke-width="0.8" stroke-opacity="0.7"/>
<path d="M352,111.86 Q455.5,186.05 559,262.64" fill="none" stroke="#5a4af0" stroke-width="0.8" stroke-opacity="0.7"/>
<path d="M352,114.13 Q455.5,188.90 559,266.07" fill="none" stroke="#5a4af0" stroke-width="0.8" stroke-opacity="0.7"/>
<path d="M352,139.32 Q455.5,214.30 559,291.67" fill="none" stroke="#5a4af0" stroke-width="0.8" stroke-opacity="0.7"/>
<path d="M352,152.56 Q455.5,226.71 559,303.26" fill="none" stroke="#5a4af0" stroke-width="0.8" stroke-opacity="0.7"/>
<circle cx="451.6" cy="174.4" r="23.2" fill="none" stroke="#e35d5d" stroke-width="0.75" stroke-dasharray="1.5 1.2"/>
<circle cx="451.6" cy="174.8" r="1.4" fill="#2a2ae0" stroke="#111" stroke-width="0.35"/>
<circle cx="475.7" cy="171.9" r="1.4" fill="#a81515" stroke="#111" stroke-width="0.4"/>
</g>
<rect x="357" y="73.5" width="197" height="191.8" fill="none" stroke="#7a7a7a" stroke-width="0.9"/>
<text x="419.20" y="180.80" font-size="13" text-anchor="middle" fill="#d42020" stroke="#d42020" stroke-width="0.25">s</text>
<line x1="359.9" y1="265.3" x2="359.9" y2="267.8" stroke="#7a7a7a" stroke-width="0.7"/>
<text transform="translate(359.90,275.00) scale(1.075,1)" font-size="8.5" text-anchor="middle" fill="#1a1a1a" stroke="#1a1a1a" stroke-width="0.12">0.79</text>
<line x1="388.0" y1="265.3" x2="388.0" y2="267.8" stroke="#7a7a7a" stroke-width="0.7"/>
<text transform="translate(388.00,275.00) scale(1.075,1)" font-size="8.5" text-anchor="middle" fill="#1a1a1a" stroke="#1a1a1a" stroke-width="0.12">0.80</text>
<line x1="416.1" y1="265.3" x2="416.1" y2="267.8" stroke="#7a7a7a" stroke-width="0.7"/>
<text transform="translate(416.10,275.00) scale(1.075,1)" font-size="8.5" text-anchor="middle" fill="#1a1a1a" stroke="#1a1a1a" stroke-width="0.12">0.81</text>
<line x1="444.19999999999976" y1="265.3" x2="444.19999999999976" y2="267.8" stroke="#7a7a7a" stroke-width="0.7"/>
<text transform="translate(444.20,275.00) scale(1.075,1)" font-size="8.5" text-anchor="middle" fill="#1a1a1a" stroke="#1a1a1a" stroke-width="0.12">0.82</text>
<line x1="472.2999999999998" y1="265.3" x2="472.2999999999998" y2="267.8" stroke="#7a7a7a" stroke-width="0.7"/>
<text transform="translate(472.30,275.00) scale(1.075,1)" font-size="8.5" text-anchor="middle" fill="#1a1a1a" stroke="#1a1a1a" stroke-width="0.12">0.83</text>
<line x1="500.39999999999975" y1="265.3" x2="500.39999999999975" y2="267.8" stroke="#7a7a7a" stroke-width="0.7"/>
<text transform="translate(500.40,275.00) scale(1.075,1)" font-size="8.5" text-anchor="middle" fill="#1a1a1a" stroke="#1a1a1a" stroke-width="0.12">0.84</text>
<line x1="528.4999999999998" y1="265.3" x2="528.4999999999998" y2="267.8" stroke="#7a7a7a" stroke-width="0.7"/>
<text transform="translate(528.50,275.00) scale(1.075,1)" font-size="8.5" text-anchor="middle" fill="#1a1a1a" stroke="#1a1a1a" stroke-width="0.12">0.85</text>
<line x1="354.5" y1="98.1" x2="357" y2="98.1" stroke="#7a7a7a" stroke-width="0.7"/>
<text transform="translate(353.60,101.50) scale(1.075,1)" font-size="8.5" text-anchor="end" fill="#1a1a1a" stroke="#1a1a1a" stroke-width="0.12">1.12</text>
<line x1="354.5" y1="125.55000000000001" x2="357" y2="125.55000000000001" stroke="#7a7a7a" stroke-width="0.7"/>
<text transform="translate(353.60,128.95) scale(1.075,1)" font-size="8.5" text-anchor="end" fill="#1a1a1a" stroke="#1a1a1a" stroke-width="0.12">1.11</text>
<line x1="354.5" y1="153.00000000000006" x2="357" y2="153.00000000000006" stroke="#7a7a7a" stroke-width="0.7"/>
<text transform="translate(353.60,156.40) scale(1.075,1)" font-size="8.5" text-anchor="end" fill="#1a1a1a" stroke="#1a1a1a" stroke-width="0.12">1.10</text>
<line x1="354.5" y1="180.45000000000007" x2="357" y2="180.45000000000007" stroke="#7a7a7a" stroke-width="0.7"/>
<text transform="translate(353.60,183.85) scale(1.075,1)" font-size="8.5" text-anchor="end" fill="#1a1a1a" stroke="#1a1a1a" stroke-width="0.12">1.09</text>
<line x1="354.5" y1="207.9000000000001" x2="357" y2="207.9000000000001" stroke="#7a7a7a" stroke-width="0.7"/>
<text transform="translate(353.60,211.30) scale(1.075,1)" font-size="8.5" text-anchor="end" fill="#1a1a1a" stroke="#1a1a1a" stroke-width="0.12">1.08</text>
<line x1="354.5" y1="235.3500000000001" x2="357" y2="235.3500000000001" stroke="#7a7a7a" stroke-width="0.7"/>
<text transform="translate(353.60,238.75) scale(1.075,1)" font-size="8.5" text-anchor="end" fill="#1a1a1a" stroke="#1a1a1a" stroke-width="0.12">1.07</text>
<line x1="354.5" y1="262.8000000000002" x2="357" y2="262.8000000000002" stroke="#7a7a7a" stroke-width="0.7"/>
<text transform="translate(353.60,266.20) scale(1.075,1)" font-size="8.5" text-anchor="end" fill="#1a1a1a" stroke="#1a1a1a" stroke-width="0.12">1.06</text>
<text transform="translate(455.50,283.60) scale(1.05,1)" font-size="8.5" text-anchor="middle" fill="#1a1a1a" stroke="#1a1a1a" stroke-width="0.12">X (AU)</text>
<text transform="translate(333.00,169.00) rotate(-90) scale(1.05,1)" font-size="8.5" text-anchor="middle" fill="#1a1a1a" stroke="#1a1a1a" stroke-width="0.12">Z (AU)</text>
<g clip-path="url(#cB3)">
<rect x="595.0" y="73" width="0.8" height="193" fill="#1400ff" fill-opacity="0.35"/>
<rect x="595.8" y="73" width="1.6" height="193" fill="#1400ff"/>
<rect x="597.4" y="73" width="1.8" height="193" fill="#1400ff" fill-opacity="0.62"/>
<rect x="599.2" y="73" width="0.5" height="193" fill="#1400ff" fill-opacity="0.2"/>
<line x1="617.4" y1="73" x2="617.4" y2="266" stroke="#e39c32" stroke-width="0.8" stroke-opacity="0.35"/>
<line x1="611.4" y1="261" x2="611.4" y2="266" stroke="#e39c32" stroke-width="0.8" stroke-opacity="0.35"/>
<line x1="578.4" y1="152.8" x2="596" y2="174.8" stroke="#e35d5d" stroke-width="0.75" stroke-dasharray="1.5 1.2"/>
<line x1="596" y1="174.8" x2="614" y2="197.2" stroke="#e04848" stroke-width="0.8" stroke-dasharray="2.6 0.7"/>
<circle cx="593.7" cy="171.7" r="1.4" fill="#a81515" stroke="#111" stroke-width="0.4"/>
<circle cx="595.8" cy="174.8" r="1.4" fill="#2a2ae0" stroke="#111" stroke-width="0.35"/>
</g>
<rect x="560.5" y="73.5" width="65.70000000000005" height="191.8" fill="none" stroke="#7a7a7a" stroke-width="0.9"/>
<line x1="561.0" y1="265.3" x2="561.0" y2="267.8" stroke="#7a7a7a" stroke-width="0.7"/>
<line x1="593.5" y1="265.3" x2="593.5" y2="267.8" stroke="#7a7a7a" stroke-width="0.7"/>
<line x1="626.0" y1="265.3" x2="626.0" y2="267.8" stroke="#7a7a7a" stroke-width="0.7"/>
<text transform="translate(561.00,275.00) scale(1.075,1)" font-size="8.5" text-anchor="middle" fill="#1a1a1a" stroke="#1a1a1a" stroke-width="0.12"><tspan>–</tspan><tspan dx="0.9">0.005</tspan></text>
<text transform="translate(593.20,275.00) scale(1.075,1)" font-size="8.5" text-anchor="middle" fill="#1a1a1a" stroke="#1a1a1a" stroke-width="0.12">0.000</text>
<text transform="translate(626.00,275.00) scale(1.075,1)" font-size="8.5" text-anchor="middle" fill="#1a1a1a" stroke="#1a1a1a" stroke-width="0.12">0.005</text>
<text transform="translate(593.40,283.60) scale(1.05,1)" font-size="8.5" text-anchor="middle" fill="#1a1a1a" stroke="#1a1a1a" stroke-width="0.12">Y (AU)</text>
</svg>
</body></html>
